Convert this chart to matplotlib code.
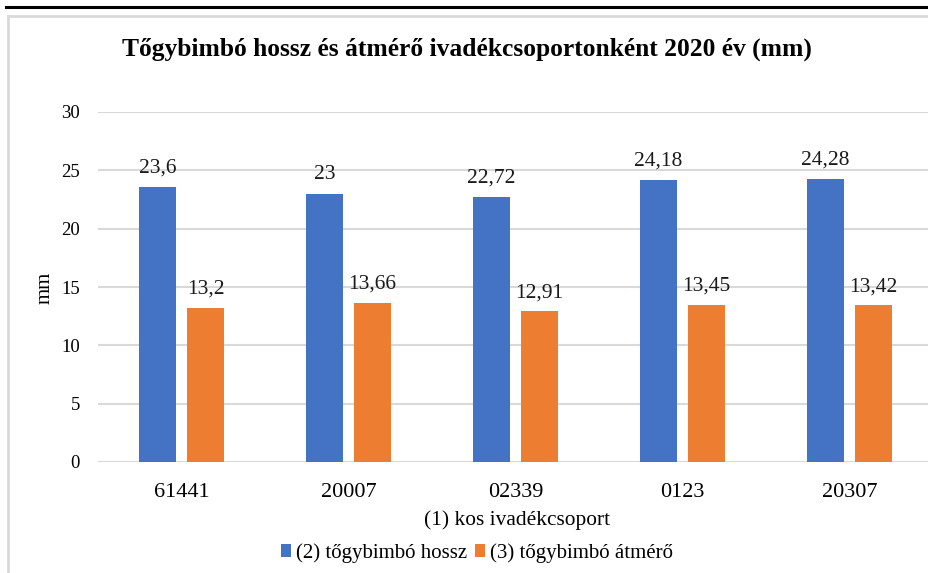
import matplotlib
matplotlib.use("Agg")
import matplotlib.pyplot as plt
from matplotlib.lines import Line2D
import numpy as np

categories = ["61441", "20007", "02339", "0123", "20307"]
hossz = [23.6, 23, 22.72, 24.18, 24.28]
atmero = [13.2, 13.66, 12.91, 13.45, 13.42]
hossz_labels = ["23,6", "23", "22,72", "24,18", "24,28"]
atmero_labels = ["13,2", "13,66", "12,91", "13,45", "13,42"]
series_names = ["(2) tőgybimbó hossz", "(3) tőgybimbó átmérő"]
yticks = [0, 5, 10, 15, 20, 25, 30]

plt.rcParams['font.family'] = ['Liberation Serif', 'DejaVu Serif']

W, H = 929, 573
fig = plt.figure(figsize=(W / 100, H / 100), dpi=100)

# outer decorations: thick top line and light gray frame
fig.add_artist(Line2D([6 / W, 1.0], [1 - 7 / H, 1 - 7 / H], color="black", lw=2.2,
                      transform=fig.transFigure))
fig.add_artist(Line2D([8 / W, 8 / W], [0, 1 - 16 / H], color="#d9d9d9", lw=2,
                      transform=fig.transFigure))
fig.add_artist(Line2D([8 / W, 1.0], [1 - 16 / H, 1 - 16 / H], color="#d9d9d9", lw=2,
                      transform=fig.transFigure))

ax = fig.add_axes([98 / W, 1 - 462 / H, 835 / W, 350 / H])
x = np.arange(len(categories))
bw = 0.222
off = 0.144
blue = "#4472C4"
orange = "#ED7D31"
ax.bar(x - off, hossz, bw, color=blue, zorder=3, label=series_names[0])
ax.bar(x + off, atmero, bw, color=orange, zorder=3, label=series_names[1])

for xi, v, s in zip(x, hossz, hossz_labels):
    ax.text(xi - off, v + 0.8, s, ha="center", va="bottom", fontsize=15.5, color="#1a1a1a")
for xi, v, s in zip(x, atmero, atmero_labels):
    ax.text(xi + off, v + 0.8, s, ha="center", va="bottom", fontsize=15.5, color="#1a1a1a")

ax.set_xlim(-0.5, len(categories) - 0.5)
ax.set_ylim(0, 30)
ax.set_yticks(yticks)
ax.set_yticklabels([str(t) for t in yticks], fontsize=13.5)
ax.set_xticks(x)
ax.set_xticklabels(categories, fontsize=16)
ax.tick_params(length=0)
ax.tick_params(axis="y", pad=13)
ax.tick_params(axis="x", pad=15)
ax.grid(axis="y", color="#d9d9d9", lw=1.5, zorder=0)
for sp in ax.spines.values():
    sp.set_visible(False)

fig.text(45 / W, 1 - 288 / H, "mm", rotation=90, ha="center", va="center", fontsize=15)

fig.text(517 / W, 1 - 520 / H, "(1) kos ivadékcsoport", ha="center", va="center", fontsize=15.4)
fig.text(467 / W, 1 - 49 / H, "Tőgybimbó hossz és átmérő ivadékcsoportonként 2020 év (mm)",
         ha="center", va="center", fontsize=18.4, fontweight="bold")

leg = fig.legend(loc="center", bbox_to_anchor=(477 / W, 1 - 553 / H), ncol=2, frameon=False,
                 fontsize=15, handlelength=0.45, handleheight=0.6, handletextpad=0.25,
                 columnspacing=0.4)

fig.savefig("out.png", dpi=100)
